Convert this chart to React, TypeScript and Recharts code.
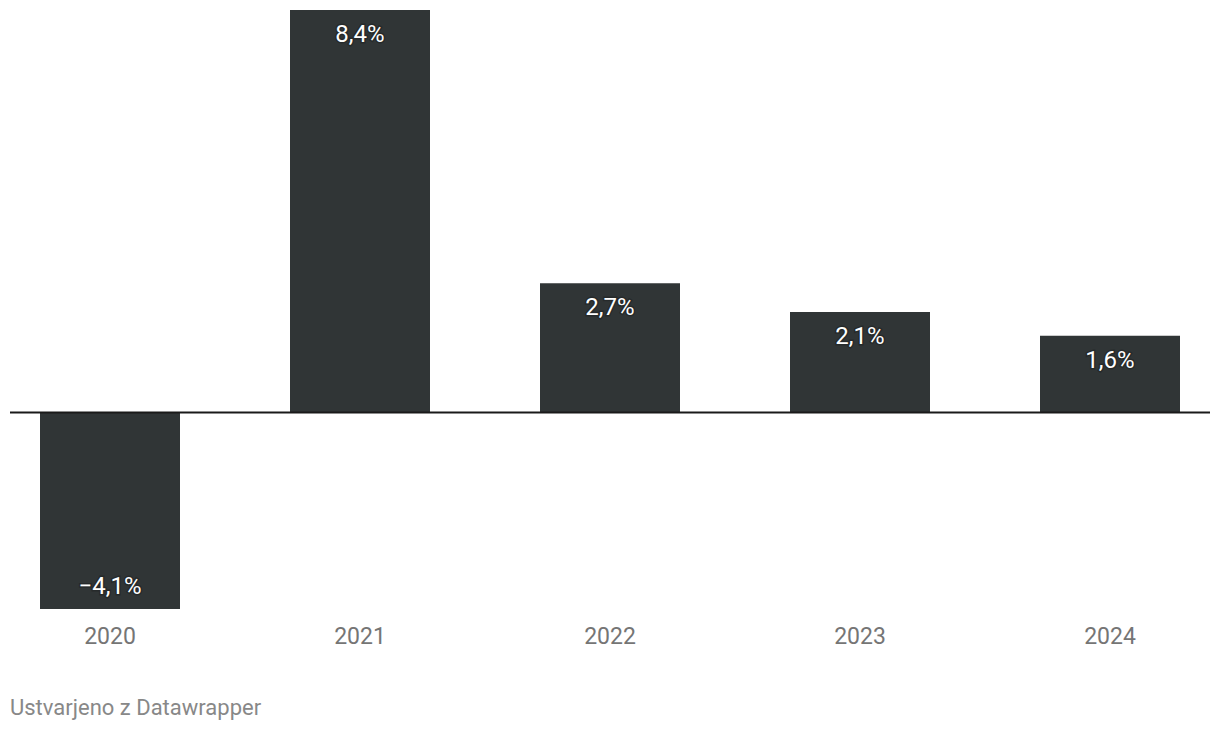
import { BarChart, Bar, XAxis, YAxis, ReferenceLine, LabelList } from "recharts";

const years = ["2020", "2021", "2022", "2023", "2024"];
const growth = [-4.1, 8.4, 2.7, 2.1, 1.6];

const data = years.map((year, i) => ({ year, value: growth[i] }));

const FONT = "Roboto, 'Noto Sans', sans-serif";

function fmt(v: number) {
  return v.toFixed(1).replace(".", ",").replace("-", "\u2212") + "%";
}

function BarLabel(props: any) {
  const { x, y, width, height, value } = props;
  const top = Math.min(y, y + height);
  const bottom = Math.max(y, y + height);
  const ty = value >= 0 ? top + 32 : bottom - 15;
  return (
    <text
      x={x + width / 2}
      y={ty}
      textAnchor="middle"
      fill="#ffffff"
      fontSize={24}
      fontFamily={FONT}
      stroke="#262a2b"
      strokeWidth={3}
      paintOrder="stroke"
    >
      {fmt(value)}
    </text>
  );
}

export default function App() {
  return (
    <div
      style={{
        position: "absolute",
        left: 0,
        top: 0,
        width: 1220,
        height: 732,
        background: "#ffffff",
        fontFamily: FONT,
      }}
    >
      <BarChart
        width={1220}
        height={660}
        data={data}
        margin={{ top: 10, right: 10, left: 10, bottom: 21 }}
      >
        <XAxis
          dataKey="year"
          axisLine={false}
          tickLine={false}
          tickMargin={13}
          padding={{ left: -25, right: -25 }}
          tick={{ fill: "#757575", fontSize: 23, fontFamily: FONT }}
        />
        <YAxis hide domain={[-4.1, 8.4]} />
        <Bar dataKey="value" fill="#303536" barSize={140} isAnimationActive={false}>
          <LabelList dataKey="value" content={<BarLabel />} />
        </Bar>
        <ReferenceLine y={0} stroke="#1a1a1a" strokeWidth={2} />
      </BarChart>
      <div
        style={{
          position: "absolute",
          left: 10,
          top: 695,
          fontSize: 22,
          color: "#888888",
          lineHeight: "26px",
        }}
      >
        Ustvarjeno z Datawrapper
      </div>
    </div>
  );
}
